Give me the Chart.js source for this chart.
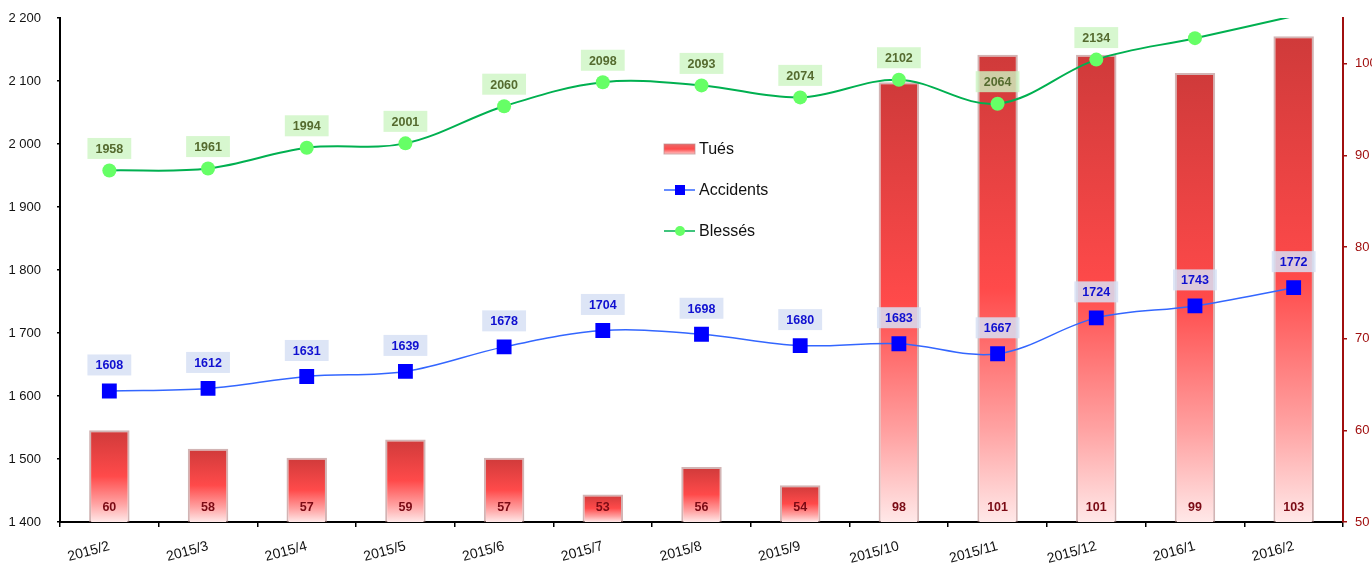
<!DOCTYPE html>
<html>
<head>
<meta charset="utf-8">
<script src="https://cdn.jsdelivr.net/npm/chart.js@4"></script>
<style>
  html, body { margin: 0; padding: 0; background: #fff; }
  #wrap { width: 1372px; height: 569px; }
</style>
</head>
<body>
<div id="wrap"><canvas id="accidentsChart"></canvas></div>
<script>
const months = ['2015/2', '2015/3', '2015/4', '2015/5', '2015/6', '2015/7', '2015/8', '2015/9', '2015/10', '2015/11', '2015/12', '2016/1', '2016/2'];
const tues = [60, 58, 57, 59, 57, 53, 56, 54, 98, 101, 101, 99, 103];
const accidents = [1608, 1612, 1631, 1639, 1678, 1704, 1698, 1680, 1683, 1667, 1724, 1743, 1772];
const blesses = [1958, 1961, 1994, 2001, 2060, 2098, 2093, 2074, 2102, 2064, 2134, 2168, 2203];

const FONT = '"Liberation Sans", Arial, sans-serif';

function barGradient(c, top, bottom) {
    const g = c.createLinearGradient(0, top, 0, bottom);
    g.addColorStop(0, '#cf3a3a');
    g.addColorStop(0.5, '#ff4a4a');
    g.addColorStop(0.8, '#ffa2a2');
    g.addColorStop(1, '#ffe8e8');
    return g;
}

function spaced(v) {
    return String(v).replace(/\B(?=(\d{3})+(?!\d))/g, ' ');
}

// value labels (boxes for the lines, plain text at the foot of the bars)
const valueLabels = {
    id: 'valueLabels',
    afterDatasetsDraw(chart) {
        const c = chart.ctx;
        const area = chart.chartArea;
        c.save();
        c.font = 'bold 12.5px ' + FONT;
        c.textAlign = 'center';
        c.textBaseline = 'middle';
        chart.data.datasets.forEach((ds, i) => {
            const meta = chart.getDatasetMeta(i);
            meta.data.forEach((el, j) => {
                const txt = String(ds.data[j]);
                if (ds.type === 'bar') {
                    c.fillStyle = '#7a0a14';
                    c.fillText(txt, el.x, area.bottom - 14);
                    return;
                }
                const cy = el.y - ds.labelOffset;
                if (cy - 11 < area.top) return;
                const w = c.measureText(txt).width + 16;
                c.fillStyle = ds.labelBg;
                c.fillRect(el.x - w / 2, cy - 10.5, w, 21);
                c.fillStyle = ds.labelColor;
                c.fillText(txt, el.x, cy + 1);
            });
        });
        c.restore();
    }
};

// legend drawn inside the plot, like the original
const floatingLegend = {
    id: 'floatingLegend',
    afterDraw(chart) {
        const c = chart.ctx;
        const x0 = 664, x1 = 695, tx = 699;
        const rows = [149, 190, 231];
        c.save();
        // Tués
        let g = c.createLinearGradient(0, rows[0] - 5, 0, rows[0] + 5);
        g.addColorStop(0, '#e86a6a');
        g.addColorStop(0.5, '#ff4a4a');
        g.addColorStop(1, '#ffc4c4');
        c.fillStyle = g;
        c.fillRect(x0, rows[0] - 5, x1 - x0, 10);
        c.strokeStyle = 'rgba(190,140,140,0.7)';
        c.lineWidth = 1;
        c.strokeRect(x0, rows[0] - 5, x1 - x0, 10);
        // Accidents
        c.strokeStyle = '#3366ff';
        c.lineWidth = 1.5;
        c.beginPath(); c.moveTo(x0, rows[1]); c.lineTo(x1, rows[1]); c.stroke();
        c.fillStyle = '#0000ff';
        c.fillRect(675, rows[1] - 5, 10, 10);
        // Blessés
        c.strokeStyle = '#00b050';
        c.beginPath(); c.moveTo(x0, rows[2]); c.lineTo(x1, rows[2]); c.stroke();
        c.fillStyle = '#66ff66';
        c.beginPath(); c.arc(680, rows[2], 5, 0, Math.PI * 2); c.fill();

        c.fillStyle = '#111';
        c.font = '16px ' + FONT;
        c.textAlign = 'left';
        c.textBaseline = 'middle';
        ['Tués', 'Accidents', 'Blessés'].forEach((t, k) => c.fillText(t, tx, rows[k] + 1));
        c.restore();
    }
};

const ctx = document.getElementById('accidentsChart').getContext('2d');

new Chart(ctx, {
    data: {
        labels: months,
        datasets: [
            {
                type: 'line',
                label: 'Blessés',
                data: blesses,
                yAxisID: 'y',
                order: 1,
                borderColor: '#00b050',
                borderWidth: 2,
                tension: 0.35,
                pointBackgroundColor: '#66ff66',
                pointBorderWidth: 0,
                pointRadius: c => (c.raw > 2200 ? 0 : 7),
                clip: 0,
                labelOffset: 22,
                labelBg: 'rgba(205,245,195,0.8)',
                labelColor: '#556b2f'
            },
            {
                type: 'line',
                label: 'Accidents',
                data: accidents,
                yAxisID: 'y',
                order: 2,
                borderColor: '#3366ff',
                borderWidth: 1.5,
                tension: 0.35,
                pointStyle: 'rect',
                pointBackgroundColor: '#0000ff',
                pointBorderWidth: 0,
                pointRadius: 10.5,
                labelOffset: 26,
                labelBg: 'rgba(215,225,245,0.85)',
                labelColor: '#1010d0'
            },
            {
                type: 'bar',
                label: 'Tués',
                data: tues,
                yAxisID: 'y1',
                order: 3,
                barPercentage: 0.41,
                categoryPercentage: 1,
                borderColor: 'rgba(180,130,130,0.6)',
                borderWidth: 2,
                borderSkipped: false,
                backgroundColor: c => {
                    const chart = c.chart;
                    const area = chart.chartArea;
                    if (!area || c.type !== 'data') return '#ff4a4a';
                    const top = chart.scales.y1.getPixelForValue(c.raw);
                    return barGradient(chart.ctx, top, area.bottom);
                }
            }
        ]
    },
    options: {
        responsive: true,
        maintainAspectRatio: false,
        animation: false,
        layout: { padding: { top: 18, left: 0, right: 0, bottom: 0 } },
        plugins: {
            legend: { display: false },
            tooltip: { enabled: false }
        },
        scales: {
            x: {
                grid: { offset: true, drawOnChartArea: false, color: '#000', tickLength: 5, lineWidth: 1.5 },
                border: { color: '#000', width: 2 },
                ticks: { color: '#111', font: { family: FONT, size: 14 }, minRotation: 15, maxRotation: 15, padding: 11 },
                afterFit: s => { s.height = 47; s.paddingLeft = 0; s.paddingRight = 0; }
            },
            y: {
                position: 'left',
                min: 1400,
                max: 2200,
                grid: { drawOnChartArea: false, color: '#000', tickLength: 3, lineWidth: 1.5 },
                border: { color: '#000', width: 2 },
                ticks: { stepSize: 100, color: '#111', padding: 16, font: { family: FONT, size: 13 }, callback: v => spaced(v) },
                afterFit: s => { s.width = 60; s.paddingTop = 0; s.paddingBottom = 0; }
            },
            y1: {
                position: 'right',
                min: 50,
                max: 105,
                grid: { drawOnChartArea: false, color: '#a00f0f', tickLength: 4, lineWidth: 1.5 },
                border: { color: '#a00f0f', width: 2 },
                ticks: { stepSize: 10, color: '#a00f0f', padding: 8, font: { family: FONT, size: 13 } },
                afterBuildTicks: s => { s.ticks = s.ticks.filter(t => t.value % 10 === 0); },
                afterFit: s => { s.width = 29; s.paddingTop = 0; s.paddingBottom = 0; }
            }
        }
    },
    plugins: [valueLabels, floatingLegend]
});
</script>
</body>
</html>
